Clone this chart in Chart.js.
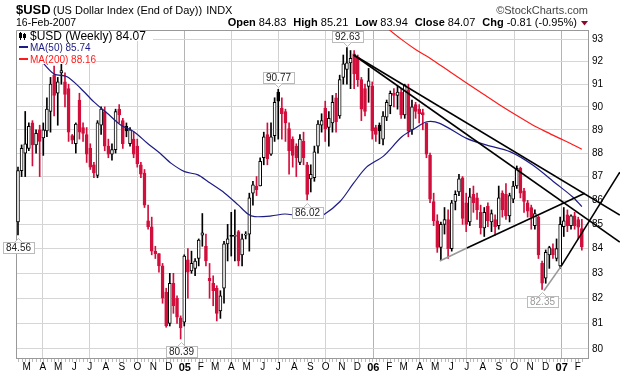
<!DOCTYPE html>
<html>
<head>
<meta charset="utf-8">
<script src="https://cdn.jsdelivr.net/npm/chart.js@4.4.1/dist/chart.umd.min.js"></script>
<style>
  html, body { margin: 0; padding: 0; background: #fff; }
  canvas { display: block; }
</style>
</head>
<body>
<canvas id="usdChart" width="620" height="376"></canvas>
<script>
// weekly candles, week 0 = 13-Feb-2004
var opens = [85.1, 87.25, 88.0, 88.2, 89.3, 88.35, 89.0, 88.65, 88.95, 89.8,
  91.4, 90.6, 91.5, 91.1, 90.8, 88.75, 88.4, 90.3, 89.1, 88.8,
  88.2, 87.5, 87.05, 89.2, 89.8, 88.3, 87.95, 88.15, 89.9, 89.4,
  89.15, 88.4, 88.6, 88.3, 87.5, 87.15, 85.15, 84.9, 83.9, 83.8,
  83.3, 82.25, 81.0, 82.6, 82.0, 81.22, 81.05, 83.55, 83.1, 83.2,
  83.6, 84.55, 84.1, 82.8, 82.6, 82.4, 81.5, 82.4, 84.2, 84.55,
  84.5, 84.7, 83.75, 84.55, 84.6, 86.3, 86.6, 86.6, 87.8, 88.8,
  87.95, 88.75, 90.65, 89.95, 89.8, 89.05, 88.6, 88.3, 87.6, 88.5,
  87.5, 86.9, 86.95, 88.3, 89.2, 89.95, 89.1, 89.3, 90.4, 89.6,
  91.3, 91.65, 91.95, 92.35, 92.2, 91.2, 90.8, 90.9, 90.9, 89.1,
  89.2, 88.6, 89.55, 90.05, 90.6, 90.5, 90.65, 89.65, 90.75, 89.0,
  90.1, 89.9, 89.75, 89.3, 87.9, 85.95, 85.15, 84.05, 85.0, 85.2,
  84.0, 85.95, 86.35, 86.95, 85.9, 85.1, 86.25, 86.1, 85.5, 84.85,
  85.75, 85.1, 85.2, 84.95, 86.3, 86.25, 85.35, 86.05, 86.6, 87.35,
  86.4, 85.9, 85.7, 84.95, 85.3, 83.4, 82.8, 83.75, 84.0, 83.6,
  83.3, 84.9, 85.4, 84.95, 85.35, 85.2, 84.83];
var highs = [87.4, 88.35, 89.8, 89.3, 89.4, 89.0, 89.2, 89.3, 90.4, 91.3,
  91.8, 91.3, 91.9, 91.5, 91.0, 88.8, 89.3, 90.6, 89.3, 89.1,
  88.4, 87.6, 89.4, 90.0, 90.0, 88.6, 88.4, 89.9, 90.1, 89.5,
  89.3, 89.1, 88.9, 88.6, 87.6, 87.3, 85.8, 85.3, 84.1, 83.8,
  83.4, 82.4, 83.0, 83.0, 82.1, 81.3, 83.75, 84.0, 83.9, 83.6,
  84.4, 85.45, 84.6, 83.4, 82.9, 82.5, 82.3, 84.3, 85.0, 85.5,
  85.6, 84.75, 84.6, 84.7, 86.3, 86.8, 87.0, 87.8, 88.9, 89.3,
  89.3, 90.4, 90.77, 90.4, 89.9, 89.3, 88.7, 88.4, 88.8, 88.9,
  87.6, 87.5, 88.3, 89.4, 89.7, 90.25, 89.8, 90.5, 90.6, 91.4,
  92.3, 92.63, 92.5, 92.5, 92.3, 91.3, 91.0, 91.7, 91.1, 89.2,
  89.3, 89.8, 90.3, 90.7, 90.8, 90.9, 90.8, 91.0, 91.0, 90.3,
  90.2, 90.1, 89.9, 89.3, 88.0, 86.3, 85.4, 85.1, 85.7, 85.6,
  86.0, 86.4, 87.1, 87.0, 86.3, 86.5, 86.6, 86.3, 85.8, 85.7,
  85.9, 85.6, 85.4, 86.6, 86.4, 86.7, 86.3, 86.8, 87.45, 87.4,
  86.5, 86.0, 85.8, 85.6, 85.35, 83.5, 83.95, 84.1, 84.2, 84.4,
  85.3, 85.7, 85.6, 85.4, 85.5, 85.3, 85.21];
var lows = [84.56, 87.0, 87.0, 88.1, 87.45, 88.0, 87.0, 87.9, 88.7, 88.9,
  89.6, 89.2, 91.0, 90.0, 88.5, 88.4, 88.0, 88.6, 88.5, 87.6,
  87.3, 86.95, 86.95, 88.8, 88.1, 87.8, 87.7, 88.0, 89.3, 88.2,
  88.7, 88.3, 87.8, 87.4, 86.95, 85.7, 84.8, 83.75, 83.6, 83.05,
  81.8, 80.85, 80.9, 81.4, 81.0, 80.39, 80.9, 82.0, 83.0, 82.9,
  83.3, 84.1, 83.3, 82.0, 81.7, 81.1, 81.2, 81.8, 83.5, 83.7,
  83.5, 83.3, 83.3, 84.4, 83.9, 85.8, 86.2, 86.6, 87.5, 87.5,
  87.9, 88.5, 88.6, 88.6, 88.5, 87.1, 87.4, 87.0, 87.5, 87.5,
  86.02, 86.35, 86.8, 88.0, 88.9, 88.5, 88.3, 88.9, 88.9, 89.5,
  91.0, 91.0, 90.8, 90.8, 90.9, 89.4, 89.6, 90.2, 88.6, 88.5,
  88.4, 88.35, 89.4, 89.7, 90.0, 89.9, 89.5, 89.5, 88.7, 88.8,
  89.5, 89.3, 89.0, 87.8, 85.9, 84.95, 83.85, 83.55, 84.6, 83.6,
  83.9, 85.6, 86.2, 85.0, 84.7, 84.95, 85.5, 85.2, 84.6, 84.5,
  84.9, 84.7, 84.55, 84.8, 85.3, 85.2, 85.1, 85.9, 86.5, 86.1,
  85.5, 85.3, 84.8, 84.8, 83.6, 82.35, 82.6, 83.2, 83.6, 83.5,
  83.2, 84.5, 84.7, 84.8, 84.8, 84.4, 83.94];
var closes = [87.25, 88.2, 88.4, 89.15, 88.35, 88.85, 88.5, 89.0, 89.9, 91.0,
  90.5, 91.1, 91.6, 90.55, 88.9, 88.55, 89.25, 88.9, 88.85, 87.95,
  87.4, 87.15, 89.3, 89.9, 88.3, 87.95, 88.15, 89.8, 89.65, 88.4,
  88.95, 89.0, 87.95, 87.55, 87.1, 85.8, 84.9, 83.9, 83.8, 83.3,
  82.0, 80.9, 82.6, 81.7, 81.25, 80.82, 83.7, 83.05, 83.4, 83.5,
  84.35, 84.65, 83.5, 82.7, 82.3, 81.4, 82.1, 84.2, 84.4, 84.5,
  84.55, 83.5, 84.4, 84.6, 86.1, 86.65, 86.45, 87.65, 88.7, 87.75,
  88.7, 90.2, 90.25, 89.7, 89.3, 88.1, 87.9, 87.8, 88.6, 87.8,
  86.25, 87.1, 88.05, 89.25, 89.4, 89.05, 89.5, 90.2, 89.35, 91.2,
  91.9, 91.95, 92.15, 91.45, 91.2, 89.9, 89.8, 91.15, 88.95, 88.8,
  88.95, 89.6, 90.2, 90.6, 90.5, 90.65, 89.65, 90.95, 88.95, 90.0,
  89.8, 89.7, 89.65, 87.95, 86.05, 85.15, 84.05, 85.0, 85.2, 84.0,
  85.9, 86.25, 86.9, 85.25, 85.0, 86.15, 85.9, 85.6, 84.85, 85.5,
  85.15, 85.45, 84.9, 86.1, 85.6, 85.35, 86.2, 86.6, 87.35, 86.3,
  85.95, 85.55, 85.3, 85.45, 83.75, 82.6, 83.85, 84.05, 83.75, 84.0,
  85.0, 85.15, 84.95, 85.35, 84.95, 84.88, 84.07];

// moving averages, read at sample weeks
var ma50Weeks = [3.5, 6.3, 10.0, 13.6, 17.3, 21.0, 24.7, 28.4, 32.1, 35.8, 39.3, 42.4, 46.1, 49.8, 52.6,
  57.2, 60.9, 63.6, 65.5, 70.1, 73.8, 76.2, 81.7, 84.5, 89.1, 92.8, 96.5, 101.1, 106.2, 109.9,
  113.1, 116.7, 124.1, 129.7, 136.1, 142.4, 148.8, 153.4, 156];
var ma50Values = [92.6, 92.07, 91.45, 91.33, 90.82, 90.22, 89.72, 89.21, 88.92, 88.42, 87.99, 87.56, 87.21, 87.07, 86.78,
  86.30, 85.81, 85.43, 85.32, 85.35, 85.43, 85.39, 85.25, 85.39, 85.95, 86.71, 87.41, 87.87, 88.70, 89.07,
  89.35, 89.28, 88.63, 88.34, 88.06, 87.49, 86.71, 86.15, 85.74];
var ma200Weeks = [101.5, 105.7, 110, 114.8, 119.5, 124.2, 128.8, 133.3, 138, 142.5, 146.3, 149.9, 153, 156];
var ma200Values = [93.6, 93.05, 92.55, 92.07, 91.55, 91.04, 90.55, 90.08, 89.62, 89.2, 88.9, 88.63, 88.4, 88.16];

// drawn trend lines: [week, value] end points
var trendTopA = [[92.9, 92.3], [166.5, 85.39]];
var trendTopB = [[92.9, 92.3], [166.5, 84.27]];
var trendRiseGray = [[116.7, 83.5], [124.2, 84.03]];
var trendRiseBlack = [[124.2, 84.03], [156.8, 86.30]];
var trendSteepGray = [[145.5, 82.3], [150.2, 83.27]];
var trendSteepBlack = [[150.2, 83.27], [166.5, 87.19]];

// price callouts
var calloutWeeks = [0, 45, 72, 80, 91, 145];
var calloutValues = [84.56, 80.39, 90.77, 86.02, 92.63, 82.35];
var calloutAbove = [false, false, true, false, true, false];
var calloutColors = ['#222', '#222', '#222', '#222', '#222', '#999'];

var yTicks = [80, 81, 82, 83, 84, 85, 86, 87, 88, 89, 90, 91, 92, 93];
var monthLetters = ['J', 'F', 'M', 'A', 'M', 'J', 'J', 'A', 'S', 'O', 'N', 'D'];

var FONT = "'Liberation Sans', Arial, sans-serif";
var RED = '#d20f3c';
var xMin = -0.55, xMax = 157.7;

// month ticks from calendar dates
var startUTC = Date.UTC(2004, 1, 13);
var weekMs = 7 * 24 * 3600 * 1000;
var monthTickValues = [], monthTickLabels = [], monthTickMonths = [];
for (var yr = 2004; yr <= 2007; yr++) {
  for (var mo = 0; mo < 12; mo++) {
    var w = (Date.UTC(yr, mo, 1) - startUTC) / weekMs;
    if (w < xMin || w > xMax) continue;
    monthTickValues.push(w);
    monthTickMonths.push(mo);
    monthTickLabels.push(mo === 0 ? String(yr).slice(2) : monthLetters[mo]);
  }
}

var wickData = [], bodyData = [], wickColors = [], bodyFills = [], bodyLines = [];
closes.forEach(function(c, i) {
  var col = (i === 0 || c >= closes[i - 1]) ? '#000' : RED;
  wickData.push({x: i, y: [lows[i], highs[i]]});
  bodyData.push({x: i, y: [opens[i], c]});
  wickColors.push(col);
  bodyLines.push(col);
  bodyFills.push(c >= opens[i] ? '#fff' : col);
});

function pts(arr) {
  return arr.map(function(p) { return {x: p[0], y: p[1]}; });
}
function trend(arr, color) {
  return {type: 'line', data: pts(arr), borderColor: color, borderWidth: 1.6,
    pointRadius: 0, clip: false, order: 0, fill: false};
}

var overlay = {
  id: 'overlay',
  beforeDatasetsDraw: function(chart) {
    var ctx = chart.ctx, a = chart.chartArea;
    ctx.save();
    ctx.strokeStyle = '#999';
    ctx.lineWidth = 1;
    ctx.beginPath();
    ctx.moveTo(a.left + 0.5, a.bottom);
    ctx.lineTo(a.left + 0.5, a.top + 0.5);
    ctx.lineTo(a.right, a.top + 0.5);
    ctx.stroke();
    ctx.restore();
  },
  afterDatasetsDraw: function(chart) {
    var ctx = chart.ctx, xs = chart.scales.x, ys = chart.scales.y;
    ctx.save();
    // callouts
    ctx.font = '10px ' + FONT;
    ctx.textAlign = 'center';
    ctx.textBaseline = 'middle';
    calloutWeeks.forEach(function(wk, k) {
      var px = Math.round(xs.getPixelForValue(wk)) + 0.5;
      var py = ys.getPixelForValue(calloutValues[k]);
      var txt = calloutValues[k].toFixed(2);
      var bw = Math.ceil(ctx.measureText(txt).width) + 5, bh = 11;
      var bx = Math.round(px - bw / 2) + 0.5, by;
      if (calloutAbove[k]) { by = Math.round(py - 6 - bh) + 0.5; } else { by = Math.round(py + 7) + 0.5; }
      ctx.fillStyle = '#fff';
      ctx.strokeStyle = '#bbb';
      ctx.lineWidth = 1;
      ctx.fillRect(bx, by, bw, bh);
      ctx.strokeRect(bx, by, bw, bh);
      ctx.beginPath();
      if (calloutAbove[k]) {
        ctx.moveTo(px - 4, by + bh); ctx.lineTo(px, by + bh + 4); ctx.lineTo(px + 4, by + bh);
      } else {
        ctx.moveTo(px - 4, by); ctx.lineTo(px, by - 4); ctx.lineTo(px + 4, by);
      }
      ctx.fill();
      ctx.stroke();
      ctx.fillStyle = calloutColors[k];
      ctx.fillText(txt, px, by + bh / 2 + 0.5);
    });
    // legend block
    ctx.textAlign = 'left';
    ctx.textBaseline = 'alphabetic';
    ctx.fillStyle = '#fff';
    ctx.fillRect(17, 31, 136, 10);
    ctx.fillRect(17, 41, 76, 12);
    ctx.fillRect(17, 53, 79, 11);
    // candle icon
    ctx.fillStyle = '#000';
    ctx.fillRect(20, 32, 1, 8);
    ctx.strokeStyle = '#000';
    ctx.strokeRect(19.5, 33.5, 2, 4);
    ctx.fillRect(24, 33, 1, 7);
    ctx.fillRect(23, 34, 3, 4);
    ctx.font = '12px ' + FONT;
    ctx.fillText('$USD (Weekly) 84.07', 30, 39.5);
    ctx.fillStyle = '#1c1c84';
    ctx.fillRect(19, 46, 9, 2);
    ctx.font = '10px ' + FONT;
    ctx.fillText('MA(50) 85.74', 30, 51);
    ctx.fillStyle = '#ff1a1a';
    ctx.fillRect(19, 58, 9, 2);
    ctx.fillText('MA(200) 88.16', 30, 63);
    ctx.restore();
  },
  afterDraw: function(chart) {
    var ctx = chart.ctx, xs = chart.scales.x, a = chart.chartArea;
    ctx.save();
    // weekly tick marks under the axis
    ctx.strokeStyle = '#bbb';
    ctx.lineWidth = 1;
    ctx.beginPath();
    for (var i = 0; i < closes.length; i++) {
      var x = Math.round(xs.getPixelForValue(i)) + 0.5;
      ctx.moveTo(x, a.bottom + 1);
      ctx.lineTo(x, a.bottom + 4);
    }
    ctx.stroke();
    // header
    ctx.fillStyle = '#000';
    ctx.textBaseline = 'alphabetic';
    ctx.textAlign = 'left';
    ctx.font = 'bold 13px ' + FONT;
    ctx.fillText('$USD', 16, 14);
    ctx.font = '11px ' + FONT;
    ctx.fillText('(US Dollar Index (End of Day))', 53, 14);
    var tw = ctx.measureText('(US Dollar Index (End of Day))').width;
    ctx.fillText('INDX', 53 + tw + 4, 14);
    ctx.font = '10.5px ' + FONT;
    ctx.fillText('16-Feb-2007', 16, 26);
    ctx.fillStyle = '#444';
    ctx.font = '11px ' + FONT;
    ctx.textAlign = 'right';
    ctx.fillText('\u00a9StockCharts.com', 588, 14);
    // quote line, right aligned
    var parts = [['Open', '84.83'], ['High', '85.21'], ['Low', '83.94'], ['Close', '84.07'], ['Chg', '-0.81 (-0.95%)']];
    var total = 0, widths = [];
    parts.forEach(function(p, k) {
      ctx.font = 'bold 11px ' + FONT;
      var lw = ctx.measureText(p[0]).width;
      ctx.font = '11px ' + FONT;
      var vw = ctx.measureText(p[1]).width;
      widths.push([lw, vw]);
      total += lw + 3 + vw + (k < parts.length - 1 ? 7 : 3);
    });
    var x0 = 580 - total;
    ctx.textAlign = 'left';
    ctx.fillStyle = '#000';
    parts.forEach(function(p, k) {
      ctx.font = 'bold 11px ' + FONT;
      ctx.fillText(p[0], x0, 26);
      x0 += widths[k][0] + 3;
      ctx.font = '11px ' + FONT;
      ctx.fillText(p[1], x0, 26);
      x0 += widths[k][1] + 7;
    });
    ctx.fillStyle = '#8b0a2a';
    ctx.beginPath();
    ctx.moveTo(581, 21); ctx.lineTo(588, 21); ctx.lineTo(584.5, 25.5);
    ctx.closePath();
    ctx.fill();
    ctx.restore();
  }
};

new Chart(document.getElementById('usdChart'), {
  type: 'bar',
  data: {
    datasets: [
      trend(trendTopA, '#000'),
      trend(trendTopB, '#000'),
      trend(trendRiseGray, '#999'),
      trend(trendRiseBlack, '#000'),
      trend(trendSteepGray, '#999'),
      trend(trendSteepBlack, '#000'),
      {type: 'line', label: 'MA(50)', data: ma50Weeks.map(function(w, k) { return {x: w, y: ma50Values[k]}; }),
        borderColor: '#1c1c84', borderWidth: 1.2, pointRadius: 0, tension: 0.3, order: 1, fill: false},
      {type: 'line', label: 'MA(200)', data: ma200Weeks.map(function(w, k) { return {x: w, y: ma200Values[k]}; }),
        borderColor: '#ff1a1a', borderWidth: 1.2, pointRadius: 0, tension: 0.3, order: 1, fill: false, clip: 0},
      {type: 'bar', label: 'body', data: bodyData, backgroundColor: bodyFills, borderColor: bodyLines,
        borderWidth: 1, borderSkipped: false, barThickness: 3, grouped: false, order: 2},
      {type: 'bar', label: 'wick', data: wickData, backgroundColor: wickColors,
        barThickness: 1, grouped: false, order: 3}
    ]
  },
  options: {
    responsive: false,
    animation: false,
    events: [],
    layout: { padding: { left: 16, top: 30, right: 0, bottom: 0 } },
    plugins: { legend: { display: false }, tooltip: { enabled: false } },
    scales: {
      x: {
        type: 'linear',
        min: xMin,
        max: xMax,
        offset: false,
        afterBuildTicks: function(scale) {
          scale.ticks = monthTickValues.map(function(v) { return {value: v}; });
        },
        afterFit: function(scale) { scale.height = 18; },
        ticks: {
          autoSkip: false,
          maxRotation: 0,
          padding: 3,
          color: '#000',
          callback: function(value, index) { return monthTickLabels[index]; },
          font: function(ctx) {
            return monthTickMonths[ctx.index] === 0 ? {family: FONT, size: 11, weight: 'bold'} : {family: FONT, size: 10};
          }
        },
        grid: {
          offset: false,
          drawTicks: false,
          color: function(ctx) {
            var m = monthTickMonths[ctx.index];
            if (m === 0) return '#b4b4b4';
            if (m % 3 === 0) return '#d2d2d2';
            return 'rgba(0,0,0,0)';
          }
        },
        border: { display: true, color: '#999' }
      },
      y: {
        type: 'logarithmic',
        position: 'right',
        min: 79.65,
        max: 93.43,
        afterBuildTicks: function(scale) {
          scale.ticks = yTicks.map(function(v) { return {value: v}; });
        },
        afterFit: function(scale) { scale.width = 32; },
        ticks: {
          padding: 4,
          color: '#000',
          font: {family: FONT, size: 10},
          callback: function(value) { return String(value); }
        },
        grid: { drawTicks: false, color: '#d6d6d6' },
        border: { display: true, color: '#999' }
      }
    }
  },
  plugins: [overlay]
});
</script>
</body>
</html>
